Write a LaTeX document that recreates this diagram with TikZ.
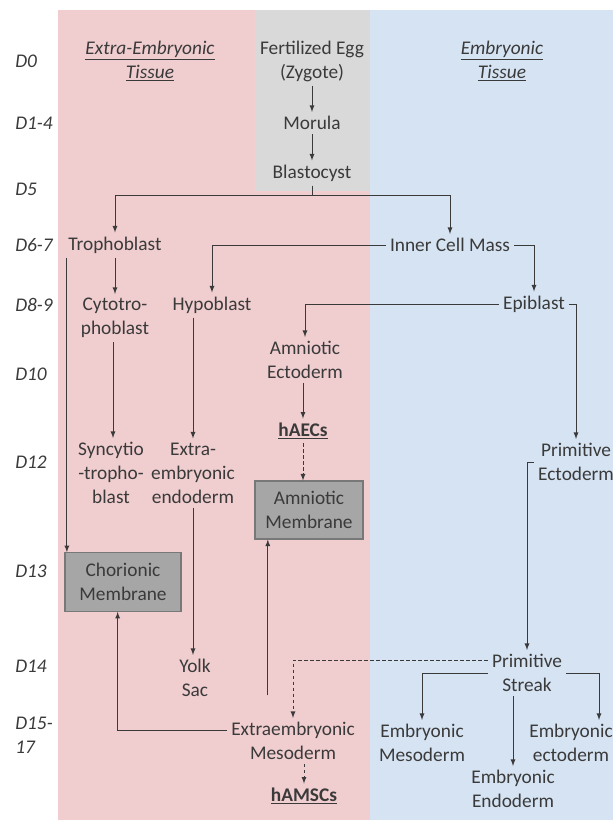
\documentclass[tikz,border=0pt]{standalone}
\usepackage{fontspec}
\setmainfont{Carlito}
\usetikzlibrary{arrows.meta, positioning, calc}

\definecolor{pinkbg}{RGB}{240,205,207}
\definecolor{bluebg}{RGB}{213,227,242}
\definecolor{graybg}{RGB}{217,217,217}
\definecolor{txt}{RGB}{58,58,58}
\definecolor{boxfill}{RGB}{166,166,166}
\definecolor{boxline}{RGB}{120,120,120}

\begin{document}
\begin{tikzpicture}[
    x=0.75pt, y=-0.75pt,
    lbl/.style={font=\fontsize{14.5}{18}\selectfont, text=txt, align=center, inner sep=3pt},
    day/.style={font=\fontsize{14.5}{18}\selectfont\itshape, text=txt, anchor=west, inner sep=0pt},
    head/.style={font=\fontsize{14.5}{18}\selectfont\itshape, text=txt, align=center},
    memb/.style={lbl, draw=boxline, fill=boxfill, line width=0.8pt},
    arrow/.style={->, >=latex, draw=txt, line width=0.7pt},
    darrow/.style={arrow, dash pattern=on 2.5pt off 2pt}
]
    \useasboundingbox (0,0) rectangle (613,820);
    % background columns
    \fill[pinkbg] (58,10) rectangle (370,820);
    \fill[graybg] (255,10) rectangle (370,191);
    \fill[bluebg] (370,10) rectangle (613,820);

    % days
    \node[day] (d0) at (15,61) {D0};
    \node[day] (d1) at (15,123) {D1-4};
    \node[day] (d5) at (15,189) {D5};
    \node[day] (d6) at (15,245) {D6-7};
    \node[day] (d8) at (15,305) {D8-9};
    \node[day] (d10) at (15,374) {D10};
    \node[day] (d12) at (15,462) {D12};
    \node[day] (d13) at (15,571) {D13};
    \node[day] (d14) at (15,666) {D14};
    \node[day, align=left] (d15) at (15,735) {D15-\\17};

    % headings
    \node[head] (hextra) at (150,61) {\underline{Extra-Embryonic}\\\underline{Tissue}};
    \node[head] (hemb) at (502,61) {\underline{Embryonic}\\\underline{Tissue}};

    % nodes
    \node[lbl] (egg) at (312,61) {Fertilized Egg\\(Zygote)};
    \node[lbl] (morula) at (312,123) {Morula};
    \node[lbl] (blast) at (312,173) {Blastocyst};
    \node[lbl] (troph) at (115,245) {Trophoblast};
    \node[lbl] (icm) at (450,245) {Inner Cell Mass};
    \node[lbl] (cyto) at (115,318) {Cytotro-\\phoblast};
    \node[lbl] (hypo) at (212,305) {Hypoblast};
    \node[lbl] (epi) at (534,304) {Epiblast};
    \node[lbl] (amecto) at (305,360) {Amniotic\\Ectoderm};
    \node[lbl] (haecs) at (303,431) {\textbf{\underline{hAECs}}};
    \node[lbl] (sync) at (111,473) {Syncytio\\-tropho-\\blast};
    \node[lbl] (exendo) at (193,473) {Extra-\\embryonic\\endoderm};
    \node[lbl] (primecto) at (576,462) {Primitive\\Ectoderm};
    \node[memb, minimum width=81pt, minimum height=43.5pt] (amnmem) at (309,510) {Amniotic\\Membrane};
    \node[memb, minimum width=87pt, minimum height=44pt] (chor) at (123,582) {Chorionic\\Membrane};
    \node[lbl] (yolk) at (195,678) {Yolk\\Sac};
    \node[lbl] (streak) at (527,673) {Primitive\\Streak};
    \node[lbl] (exmeso) at (293,741) {Extraembryonic\\Mesoderm};
    \node[lbl] (embmeso) at (422,743) {Embryonic\\Mesoderm};
    \node[lbl] (embecto) at (571,743) {Embryonic\\ectoderm};
    \node[lbl] (embendo) at (513,789) {Embryonic\\Endoderm};
    \node[lbl] (hamscs) at (304,796) {\textbf{\underline{hAMSCs}}};

    % connectors
    \draw[arrow] (egg) -- (morula);
    \draw[arrow] (morula) -- (blast);
    \draw[arrow] (blast.south) -- ++(0,10) -| (troph.north);
    \draw[arrow] (blast.south) -- ++(0,10) -| (icm.north);
    \draw[arrow] (icm.west) -| (hypo.north);
    \draw[arrow] (icm.east) -| (epi.north);
    \draw[arrow] (epi.west) -| (amecto.north);
    \draw[arrow] (epi.east) -| (primecto.north);
    \draw[arrow] (primecto.west) -| (streak.north);
    \draw[darrow] ([yshift=9.5pt]streak.west) -| (exmeso.north);
    \draw[arrow] (streak.west) -| (embmeso.north);
    \draw[arrow] (streak.east) -| ([xshift=21pt]embecto.north);
    \draw[arrow] (streak.south -| embendo.north) -- (embendo.north);
    \draw[darrow] (exmeso.south -| hamscs.north) -- (hamscs.north);
    \draw[arrow] ([yshift=8pt]exmeso.west) -| ([xshift=-4pt]chor.south);
    \coordinate (amin) at ([xshift=10pt]amnmem.south west);
    \coordinate (amout) at ([yshift=17pt]exmeso.north);
    \draw[arrow] (amout -| amin) -- (amin);
    \draw[arrow] (troph) -- (cyto);
    \draw[arrow] ([xshift=2pt]troph.south west) -- ([xshift=2pt]troph.south west |- chor.north);
    \draw[arrow] ([xshift=-1.5pt]cyto.south) -- ([xshift=-1.5pt]cyto.south |- sync.north);
    \draw[arrow] (hypo.south -| exendo.north) -- (exendo.north);
    \draw[arrow] (exendo.south) -- (exendo.south |- yolk.north);
    \draw[arrow] (amecto.south -| haecs.north) -- (haecs.north);
    \draw[darrow] (haecs.south) -- (haecs.south |- amnmem.north);
\end{tikzpicture}
\end{document}
